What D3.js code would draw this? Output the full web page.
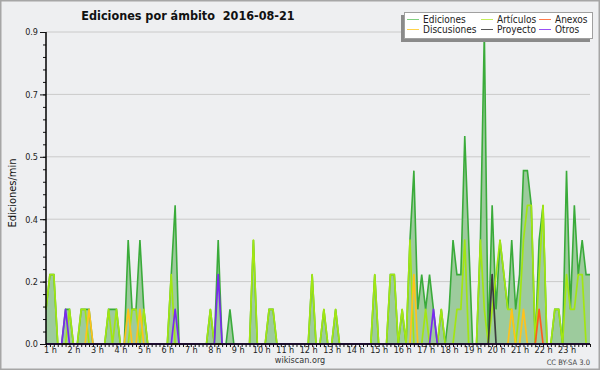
<!DOCTYPE html>
<html lang="es">
<head>
<meta charset="UTF-8">
<title>Ediciones por ámbito 2016-08-21</title>
<script src="https://d3js.org/d3.v7.min.js"></script>
<style>
    body { margin: 0; background: #eeeff1; }
    svg { display: block; font-family: "DejaVu Sans", sans-serif; font-stretch: condensed; }
    .tick text { fill: #222; }
    .title { white-space: pre; }
</style>
</head>
<body>
<div id="chart"></div>
<script>
// 10 minute buckets, first one at 0:50, last one at 24:00 (edits per minute)
const startMin = 50;
const stepMin = 10;

const ediciones = [
    0.1,
    0.2, 0.2, 0, 0, 0.1, 0.1,      // 1 h
    0, 0, 0.1, 0.1, 0.1, 0,        // 2 h
    0, 0, 0, 0.1, 0.1, 0.1,        // 3 h
    0, 0, 0.3, 0.1, 0.1, 0.3,      // 4 h
    0.1, 0, 0, 0, 0, 0,            // 5 h
    0, 0.2, 0.4, 0, 0, 0,          // 6 h
    0, 0, 0, 0, 0, 0.1,            // 7 h
    0, 0.3, 0, 0, 0.1, 0,          // 8 h
    0, 0, 0, 0, 0.3, 0,            // 9 h
    0, 0, 0.1, 0.1, 0, 0,          // 10 h
    0, 0, 0, 0, 0, 0,              // 11 h
    0, 0.2, 0, 0, 0.1, 0,          // 12 h
    0, 0.1, 0, 0, 0, 0,            // 13 h
    0, 0, 0, 0, 0, 0.2,            // 14 h
    0, 0, 0, 0.2, 0.2, 0,          // 15 h
    0.1, 0, 0.3, 0.5, 0.1, 0.2,    // 16 h
    0.1, 0.2, 0.1, 0, 0.1, 0,      // 17 h
    0.1, 0.3, 0.2, 0.2, 0.6, 0.3,  // 18 h
    0, 0, 0.3, 0.9, 0, 0.4,        // 19 h
    0.1, 0.3, 0.2, 0.1, 0.3, 0.1,  // 20 h
    0.2, 0.5, 0.5, 0.4, 0, 0.3,    // 21 h
    0.4, 0, 0, 0.1, 0.1, 0,        // 22 h
    0.5, 0.1, 0.4, 0.2, 0.3, 0.2,  // 23 h
    0.2
];

const articulos = [
    0.1,
    0.2, 0.2, 0, 0, 0, 0.1,
    0, 0, 0.1, 0.1, 0, 0,
    0, 0, 0, 0.1, 0, 0.1,
    0, 0, 0, 0.1, 0.1, 0,
    0.1, 0, 0, 0, 0, 0,
    0, 0.2, 0, 0, 0, 0,
    0, 0, 0, 0, 0, 0.1,
    0, 0, 0, 0, 0, 0,
    0, 0, 0, 0, 0.3, 0,
    0, 0, 0.1, 0.1, 0, 0,
    0, 0, 0, 0, 0, 0,
    0, 0.2, 0, 0, 0.1, 0,
    0, 0.1, 0, 0, 0, 0,
    0, 0, 0, 0, 0, 0.2,
    0, 0, 0, 0.2, 0.2, 0,
    0.1, 0, 0.3, 0, 0, 0,
    0.1, 0, 0, 0, 0.1, 0,
    0, 0, 0.1, 0.1, 0.3, 0,
    0, 0, 0.3, 0.1, 0, 0.1,
    0.2, 0.3, 0.2, 0.1, 0.1, 0,
    0.1, 0.3, 0.4, 0.4, 0, 0.2,
    0.4, 0, 0, 0.1, 0.1, 0,
    0.2, 0.1, 0.1, 0.2, 0.2, 0,
    0
];

const discusiones = [
    0,
    0, 0, 0, 0, 0, 0,
    0, 0, 0, 0, 0.1, 0,
    0, 0, 0, 0, 0, 0,
    0, 0, 0.1, 0, 0, 0.1,
    0, 0, 0, 0, 0, 0,
    0, 0, 0, 0, 0, 0,
    0, 0, 0, 0, 0, 0,
    0, 0, 0, 0, 0, 0,
    0, 0, 0, 0, 0, 0,
    0, 0, 0, 0, 0, 0,
    0, 0, 0, 0, 0, 0,
    0, 0, 0, 0, 0, 0,
    0, 0, 0, 0, 0, 0,
    0, 0, 0, 0, 0, 0,
    0, 0, 0, 0, 0, 0,
    0, 0, 0, 0.2, 0, 0,
    0, 0, 0, 0, 0, 0,
    0, 0, 0, 0, 0, 0,
    0, 0, 0, 0, 0, 0,
    0, 0, 0, 0, 0.1, 0,
    0, 0.1, 0, 0, 0, 0,
    0, 0, 0, 0, 0, 0,
    0, 0, 0, 0, 0, 0,
    0
];

const anexos = [
    0,
    0, 0, 0, 0, 0, 0,
    0, 0, 0, 0, 0, 0,
    0, 0, 0, 0, 0, 0,
    0, 0, 0, 0, 0, 0,
    0, 0, 0, 0, 0, 0,
    0, 0, 0, 0, 0, 0,
    0, 0, 0, 0, 0, 0,
    0, 0, 0, 0, 0, 0,
    0, 0, 0, 0, 0, 0,
    0, 0, 0, 0, 0, 0,
    0, 0, 0, 0, 0, 0,
    0, 0, 0, 0, 0, 0,
    0, 0, 0, 0, 0, 0,
    0, 0, 0, 0, 0, 0,
    0, 0, 0, 0, 0, 0,
    0, 0, 0, 0, 0, 0,
    0, 0, 0, 0, 0, 0,
    0, 0, 0, 0, 0, 0,
    0, 0, 0, 0, 0, 0,
    0, 0, 0, 0, 0, 0,
    0, 0, 0, 0, 0, 0.1,
    0, 0, 0, 0, 0, 0,
    0, 0, 0, 0, 0, 0,
    0
];

const proyecto = [
    0,
    0, 0, 0, 0, 0, 0,
    0, 0, 0, 0, 0, 0,
    0, 0, 0, 0, 0, 0,
    0, 0, 0, 0, 0, 0,
    0, 0, 0, 0, 0, 0,
    0, 0, 0, 0, 0, 0,
    0, 0, 0, 0, 0, 0,
    0, 0, 0, 0, 0, 0,
    0, 0, 0, 0, 0, 0,
    0, 0, 0, 0, 0, 0,
    0, 0, 0, 0, 0, 0,
    0, 0, 0, 0, 0, 0,
    0, 0, 0, 0, 0, 0,
    0, 0, 0, 0, 0, 0,
    0, 0, 0, 0, 0, 0,
    0, 0, 0, 0, 0, 0,
    0, 0, 0, 0, 0, 0,
    0, 0, 0, 0, 0, 0,
    0, 0, 0, 0, 0, 0.2,
    0, 0, 0, 0, 0, 0,
    0, 0, 0, 0, 0, 0,
    0, 0, 0, 0, 0, 0,
    0, 0, 0, 0, 0, 0,
    0
];

const otros = [
    0,
    0, 0, 0, 0, 0.1, 0,
    0, 0, 0, 0, 0, 0,
    0, 0, 0, 0, 0, 0,
    0, 0, 0, 0, 0, 0,
    0, 0, 0, 0, 0, 0,
    0, 0, 0.1, 0, 0, 0,
    0, 0, 0, 0, 0, 0,
    0, 0.2, 0, 0, 0, 0,
    0, 0, 0, 0, 0, 0,
    0, 0, 0, 0, 0, 0,
    0, 0, 0, 0, 0, 0,
    0, 0, 0, 0, 0, 0,
    0, 0, 0, 0, 0, 0,
    0, 0, 0, 0, 0, 0,
    0, 0, 0, 0, 0, 0,
    0, 0, 0, 0, 0, 0,
    0, 0, 0.1, 0, 0, 0,
    0, 0, 0, 0, 0, 0,
    0, 0, 0, 0, 0, 0,
    0, 0, 0, 0, 0, 0,
    0, 0, 0, 0, 0, 0,
    0, 0, 0, 0, 0, 0,
    0, 0, 0, 0, 0, 0,
    0
];

const hourLabels = ["1 h", "2 h", "3 h", "4 h", "5 h", "6 h", "7 h", "8 h", "9 h", "10 h", "11 h", "12 h",
    "13 h", "14 h", "15 h", "16 h", "17 h", "18 h", "19 h", "20 h", "21 h", "22 h", "23 h"];
const yGrid = [0, 0.18, 0.36, 0.54, 0.72, 0.9];

const lines = [
    { name: "Artículos", values: articulos, color: "#a2e612", legend: "#c4ee5a" },
    { name: "Discusiones", values: discusiones, color: "#ffc21c", legend: "#ffd24a" },
    { name: "Anexos", values: anexos, color: "#ff5a1c", legend: "#ff7a4a" },
    { name: "Proyecto", values: proyecto, color: "#3c3c3c", legend: "#555555" },
    { name: "Otros", values: otros, color: "#7a28f0", legend: "#9a50f5" }
];

const width = 600, height = 370;
const plotLeft = 46, plotRight = 590, plotTop = 32, plotBottom = 344;

const svg = d3.select("#chart").append("svg")
    .attr("width", width)
    .attr("height", height);

svg.append("rect")
    .attr("x", 0.5).attr("y", 0.5)
    .attr("width", width - 1).attr("height", height - 1)
    .attr("fill", "#eeeff1")
    .attr("stroke", "#a6a6a6")
    .attr("stroke-width", 2);

const x = d3.scaleLinear().domain([startMin, 24 * 60]).range([plotLeft, plotRight]);
const y = d3.scaleLinear().domain([0, 0.9]).range([plotBottom, plotTop]);

const toPoints = vals => vals.map((v, k) => ({ t: startMin + k * stepMin, v: v }));

// grid
svg.append("g")
    .selectAll("line")
    .data(yGrid.slice(1))
    .join("line")
    .attr("x1", plotLeft).attr("x2", plotRight)
    .attr("y1", d => y(d)).attr("y2", d => y(d))
    .attr("stroke", "#cacaca")
    .attr("stroke-width", 1);

// total area
const area = d3.area()
    .x(d => x(d.t))
    .y0(y(0))
    .y1(d => y(d.v));

const line = d3.line()
    .x(d => x(d.t))
    .y(d => y(d.v));

svg.append("path")
    .datum(toPoints(ediciones))
    .attr("d", area)
    .attr("fill", "#9dcb9d");

svg.append("path")
    .datum(toPoints(ediciones))
    .attr("d", line)
    .attr("fill", "none")
    .attr("stroke", "#3aab3a")
    .attr("stroke-width", 1.6);

lines.forEach(s => {
    svg.append("path")
        .datum(toPoints(s.values))
        .attr("d", line)
        .attr("fill", "none")
        .attr("stroke", s.color)
        .attr("stroke-width", 1.7)
        .attr("stroke-linejoin", "round");
});

// y axis
const yMinor = d3.range(0, 0.9001, 0.036);
svg.append("g")
    .attr("transform", `translate(${plotLeft},0)`)
    .call(d3.axisLeft(y).tickValues(yMinor).tickSize(3).tickFormat(""))
    .call(g => g.select(".domain").remove())
    .selectAll("line").attr("stroke", "#111");

svg.append("g")
    .attr("transform", `translate(${plotLeft},0)`)
    .call(d3.axisLeft(y).tickValues(yGrid).tickSize(6).tickPadding(2).tickFormat(d3.format(".1f")))
    .call(g => g.select(".domain").attr("d", `M0,${plotTop}V${plotBottom}`).attr("stroke", "#000").attr("stroke-width", 1.5))
    .call(g => g.selectAll("text").attr("font-size", 9).attr("font-family", "DejaVu Sans"))
    .selectAll("line").attr("stroke", "#111");

// x axis
const xMinor = d3.range(startMin, 24 * 60 + 1, stepMin);
svg.append("g")
    .attr("transform", `translate(0,${plotBottom})`)
    .call(d3.axisBottom(x).tickValues(xMinor).tickSize(3).tickFormat(""))
    .call(g => g.select(".domain").attr("d", `M${plotLeft},0H${plotRight}`).attr("stroke", "#000").attr("stroke-width", 1.5))
    .selectAll("line").attr("stroke", "#111").attr("stroke-width", 1);

svg.append("g")
    .attr("transform", `translate(0,${plotBottom})`)
    .call(d3.axisBottom(x)
        .tickValues(hourLabels.map((_, k) => (k + 1) * 60))
        .tickSize(0).tickPadding(3)
        .tickFormat((d, k) => hourLabels[k]))
    .call(g => g.select(".domain").remove())
    .call(g => g.selectAll("text").attr("font-size", 9).attr("font-family", "DejaVu Sans"));

// titles
svg.append("text")
    .attr("class", "title")
    .attr("x", 188).attr("y", 20)
    .attr("text-anchor", "middle")
    .attr("font-size", 12.5)
    .attr("font-weight", "bold")
    .attr("fill", "#111")
    .text("Ediciones por ámbito  2016-08-21");

svg.append("text")
    .attr("transform", "translate(16,193) rotate(-90)")
    .attr("text-anchor", "middle")
    .attr("font-size", 11)
    .attr("fill", "#111")
    .text("Ediciones/min");

svg.append("text")
    .attr("x", 300).attr("y", 363)
    .attr("text-anchor", "middle")
    .attr("font-size", 9)
    .attr("fill", "#333")
    .text("wikiscan.org");

svg.append("text")
    .attr("x", 590).attr("y", 365)
    .attr("text-anchor", "end")
    .attr("font-size", 7.5)
    .attr("fill", "#444")
    .text("CC BY-SA 3.0");

// legend
const legendItems = [
    { name: "Ediciones", color: "#80cf80" },
    lines[0], lines[2],
    lines[1], lines[3], lines[4]
];
const legendCols = [407, 481, 539];
const legendRows = [19, 29];

const legend = svg.append("g");
legend.append("rect")
    .attr("x", 401).attr("y", 15).attr("width", 189).attr("height", 27)
    .attr("fill", "#8a8a8a");
legend.append("rect")
    .attr("x", 404.5).attr("y", 12.5).attr("width", 188).attr("height", 26)
    .attr("fill", "#ffffff")
    .attr("stroke", "#a0a0a0");

legendItems.forEach((d, k) => {
    const cx = legendCols[k % 3];
    const cy = legendRows[Math.floor(k / 3)];
    legend.append("line")
        .attr("x1", cx).attr("x2", cx + 12)
        .attr("y1", cy + 0.5).attr("y2", cy + 0.5)
        .attr("stroke", d.legend || d.color)
        .attr("stroke-width", 1);
    legend.append("text")
        .attr("x", cx + 16).attr("y", cy + 3.5)
        .attr("font-size", 10)
        .attr("fill", "#222")
        .text(d.name);
});
</script>
</body>
</html>
